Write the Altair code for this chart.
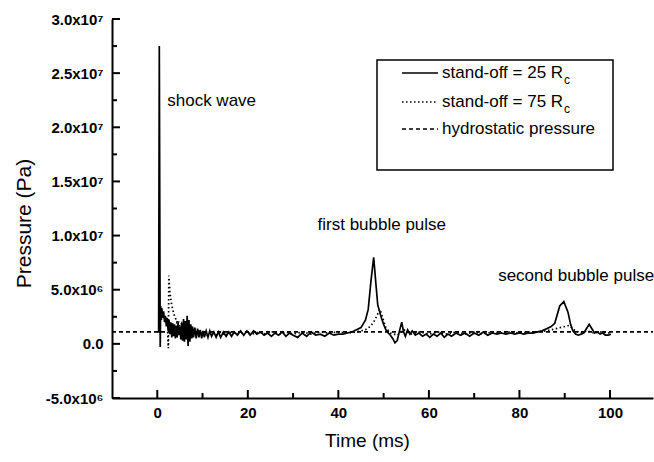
import altair as alt
import pandas as pd

# ---------------- data (time in ms, pressure in units of 1e6 Pa) ----------------
t25 = [0.0, 0.3, 0.45, 0.6, 0.65, 0.75, 0.9, 1.0, 1.2, 1.4, 1.6, 1.8, 2.0, 2.2, 2.4, 2.6,
       2.8, 3.0, 3.2, 3.4, 3.6, 3.8, 4.0, 4.2, 4.4, 4.6, 4.8, 5.0, 5.2, 5.4, 5.6, 5.8,
       6.0, 6.2, 6.4, 6.6, 6.8, 7.0, 7.2, 7.4, 7.6, 7.8, 8.0, 8.3, 8.6, 8.9, 9.2, 9.5,
       9.8, 10.1, 10.4, 10.8, 11.2, 11.6, 12.0, 12.5, 13.0, 13.5, 14.0, 14.6, 15.2, 15.8,
       16.4, 17.0, 17.7, 18.4, 19.1, 19.8, 20.5, 21.3, 22.0, 22.8, 23.6, 24.4, 25.2, 26.0,
       26.8, 27.6, 28.4, 29.2, 30.0, 31.0, 32.0, 33.0, 34.0, 35.0, 36.0, 37.0, 38.0, 39.0,
       40.0, 41.0, 42.0, 43.0, 44.0, 45.0, 46.0, 46.6, 47.2, 47.8, 48.3, 48.7, 49.1, 49.5,
       50.0, 50.5, 51.0, 51.5, 52.0, 52.5, 53.0, 53.5, 54.0, 54.4, 54.8, 55.3, 55.8, 56.3,
       57.0, 57.8, 58.6, 59.4, 60.2, 61.0, 61.8, 62.6, 63.4, 64.2, 65.0, 66.0, 67.0, 68.0,
       69.0, 70.0, 71.0, 72.0, 73.0, 74.0, 75.0, 76.0, 77.0, 78.0, 79.0, 80.0, 81.0, 82.0,
       83.0, 84.0, 85.0, 86.0, 87.0, 87.8, 88.9, 89.8, 90.7, 91.3, 91.8, 92.4, 93.0, 93.6,
       94.2, 94.8, 95.4, 96.0, 96.6, 97.2, 97.8, 98.4, 99.0, 99.6, 100.2]
p25 = [1.1, 1.1, 27.5, 6.0, -0.3, 3.5, 2.2, 3.3, 2.4, 3.0, 2.0, 2.6, 1.6, 2.4, 1.2, 2.2,
       0.9, 2.0, 0.6, 1.9, 0.7, 1.8, 0.5, 1.7, 0.6, 2.0, 0.8, 1.6, 0.4, 1.9, 0.3, 2.3,
       0.2, 2.1, 0.4, 2.6, -0.2, 2.2, 0.2, 1.8, 0.5, 1.6, 0.6, 1.5, 0.5, 1.4, 0.6, 1.3,
       0.5, 1.2, 0.6, 1.2, 0.6, 1.2, 0.7, 1.1, 0.6, 1.1, 0.6, 1.1, 0.7, 1.1,
       0.7, 1.1, 0.8, 1.2, 0.8, 1.2, 0.8, 1.2, 0.9, 1.1, 0.8, 1.0, 0.7, 1.0,
       0.8, 1.1, 0.7, 1.0, 0.8, 0.6, 1.0, 0.7, 1.1, 0.8, 0.9, 0.7, 1.0, 0.8,
       0.9, 0.9, 1.0, 1.1, 1.3, 1.5, 2.2, 3.2, 5.8, 8.0, 5.5, 3.6, 3.0, 2.4,
       1.8, 1.3, 1.0, 0.8, 0.5, 0.1, 0.3, 1.2, 2.0, 1.1, 0.7, 1.3, 0.9, 1.2,
       0.8, 1.0, 0.7, 0.9, 0.6, 0.9, 0.7, 1.0, 0.6, 0.9, 0.7, 1.0, 0.8, 1.0,
       0.7, 1.0, 0.8, 1.1, 0.8, 1.0, 0.9, 1.0, 0.9, 1.0, 0.9, 1.0, 0.9, 1.0,
       1.0, 1.1, 1.2, 1.4, 1.6, 1.9, 3.5, 3.9, 2.95, 1.8, 1.2, 0.9, 0.8, 0.9,
       1.0, 1.4, 1.8, 1.4, 1.0, 1.1, 0.9, 1.0, 0.8, 0.8, 0.9]

t75 = [2.3, 2.45, 2.55, 2.8, 3.1, 3.4, 3.7, 4.0, 4.3, 4.6, 5.0, 5.4, 5.8, 6.2, 6.6, 7.0,
       7.5, 8.0, 8.5, 9.0, 9.6, 10.2, 11.0, 12.0, 13.0, 14.0, 15.0, 16.5, 18.0, 19.5,
       21.0, 22.5, 24.0, 25.5, 27.0, 28.5, 30.0, 32.0, 34.0, 36.0, 38.0, 40.0, 42.0,
       44.0, 46.0, 47.0, 47.8, 48.5, 49.2, 49.8, 50.5, 51.5, 53.0, 54.5, 56.0, 58.0,
       60.0, 62.0, 64.0, 66.0, 68.0, 70.0, 72.0, 74.0, 76.0, 78.0, 80.0, 82.0, 84.0,
       86.0, 88.0, 90.0, 91.0, 92.0, 93.5, 95.0, 96.5, 98.0, 100.0]
p75 = [1.1, -0.4, 6.3, 4.8, 3.8, 3.2, 2.7, 2.4, 2.0, 2.2, 1.6, 1.9, 1.3, 1.7, 1.0, 1.5,
       0.9, 1.4, 0.8, 1.3, 0.8, 1.2, 0.8, 1.1, 0.8, 1.1, 0.8, 1.1, 0.9, 1.1,
       0.9, 1.1, 0.9, 1.1, 0.9, 1.1, 0.9, 1.1, 0.9, 1.1, 1.0, 1.1, 1.0,
       1.1, 1.3, 1.6, 2.0, 2.6, 3.2, 2.4, 1.5, 1.0, 0.8, 1.3, 0.9, 1.1,
       0.9, 1.1, 0.9, 1.1, 0.9, 1.1, 0.9, 1.1, 1.0, 1.1, 1.0, 1.1, 1.1,
       1.2, 1.4, 1.6, 1.7, 1.3, 1.0, 1.2, 1.0, 1.1, 1.0]

hydro_t = [-10, 110]
hydro_p = [1.1, 1.1]

labels = ["shock wave", "first bubble pulse", "second bubble pulse"]
label_t = [2.2, 35.4, 75.3]
label_p = [22.4, 11.0, 6.3]

y_major = [-5, 0, 5, 10, 15, 20, 25, 30]
y_minor = [-2.5, 2.5, 7.5, 12.5, 17.5, 22.5, 27.5]
x_major = [0, 20, 40, 60, 80, 100]
x_minor = [10, 30, 50, 70, 90]

legend_names = ["stand-off = 25 R", "stand-off = 75 R", "hydrostatic pressure"]

# ---------------- frames ----------------
df25 = pd.DataFrame({"t": t25, "p": p25})
df75 = pd.DataFrame({"t": t75, "p": p75})
dfh = pd.DataFrame({"t": hydro_t, "p": hydro_p})
dflab = pd.DataFrame({"t": label_t, "p": label_p, "label": labels})
dfyM = pd.DataFrame({"p": y_major})
dfym = pd.DataFrame({"p": y_minor})
dfxM = pd.DataFrame({"t": x_major})
dfxm = pd.DataFrame({"t": x_minor})

FONT = "Liberation Sans"
W, H = 541, 379

xscale = alt.Scale(domain=[-10, 109.5], nice=False, zero=False)
yscale = alt.Scale(domain=[-5, 30], nice=False, zero=False)

xaxis = alt.Axis(values=x_major, title="Time (ms)", grid=False, ticks=False,
                 labelFontSize=15, labelFont=FONT, labelFontWeight="bold", labelPadding=7,
                 labelColor="black", domainColor="black", domainWidth=2,
                 titleFont=FONT, titleFontSize=19, titleFontWeight="normal", titleColor="black",
                 titleX=255, titleY=42, titleBaseline="middle", titleAnchor="middle")
ylabel_expr = ("datum.value == 0 ? '0.0' : (abs(datum.value) < 10 ? "
               "(datum.value < 0 ? '-' : '') + format(abs(datum.value), '.1f') + 'x10\u2076' : "
               "format(datum.value / 10, '.1f') + 'x10\u2077')")
yaxis = alt.Axis(values=y_major, title="Pressure (Pa)", grid=False, ticks=False,
                 labelExpr=ylabel_expr, labelFontSize=15, labelFont=FONT, labelFontWeight="bold",
                 labelPadding=9, labelColor="black", domainColor="black", domainWidth=2,
                 titleFont=FONT, titleFontSize=21, titleFontWeight="normal", titleColor="black",
                 titleX=-88, titleY=204, titleBaseline="middle", titleAngle=-90)

X = alt.X("t:Q", scale=xscale, axis=xaxis)
Y = alt.Y("p:Q", scale=yscale, axis=yaxis)

hydro = alt.Chart(dfh).mark_line(color="black", strokeWidth=1.8, strokeDash=[4, 3], clip=True).encode(x=X, y=Y)
s75 = alt.Chart(df75).mark_line(color="black", strokeWidth=1.7, strokeDash=[1.5, 2.5], clip=True).encode(x=X, y=Y)
s25 = alt.Chart(df25).mark_line(color="black", strokeWidth=1.7, clip=True).encode(x=X, y=Y)

ann = alt.Chart(dflab).mark_text(align="left", baseline="middle", font=FONT, fontSize=17,
                                 color="black").encode(x=X, y=Y, text="label:N")

# inward ticks
ytM = alt.Chart(dfyM).mark_rule(color="black", strokeWidth=2).encode(
    y=Y, x=alt.value(0), x2=alt.value(8))
ytm = alt.Chart(dfym).mark_rule(color="black", strokeWidth=2).encode(
    y=Y, x=alt.value(0), x2=alt.value(5))
xtM = alt.Chart(dfxM).mark_rule(color="black", strokeWidth=2).encode(
    x=X, y=alt.value(H), y2=alt.value(H - 8))
xtm = alt.Chart(dfxm).mark_rule(color="black", strokeWidth=2).encode(
    x=X, y=alt.value(H), y2=alt.value(H - 5))

# ---------------- legend box ----------------
dfleg = pd.DataFrame({"name": legend_names})
box = alt.Chart(dfleg.head(1)).mark_rect(fill="white", stroke="black", strokeWidth=1.5).encode(
    x=alt.value(265), x2=alt.value(501), y=alt.value(41), y2=alt.value(151))
leg_items = []
dashes = [[1, 0], [1.5, 2.5], [4, 3]]
rows_y = [54, 83, 110]
for i, name in enumerate(legend_names):
    row = dfleg.iloc[[i]]
    leg_items.append(alt.Chart(row).mark_rule(color="black", strokeWidth=1.5, strokeDash=dashes[i]).encode(
        x=alt.value(290), x2=alt.value(326), y=alt.value(rows_y[i])))
    leg_items.append(alt.Chart(row).mark_text(align="left", baseline="middle", font=FONT, fontSize=17,
                                              color="black").encode(
        x=alt.value(330), y=alt.value(rows_y[i]), text="name:N"))
sub = pd.DataFrame({"s": ["c", "c"], "yy": [rows_y[0] + 7, rows_y[1] + 7]})
subs = alt.Chart(sub).mark_text(align="left", baseline="middle", font=FONT, fontSize=12,
                                color="black").encode(
    x=alt.value(452), y=alt.Y("yy:Q", scale=None, axis=None), text="s:N")

chart = alt.layer(hydro, s75, s25, ann, ytM, ytm, xtM, xtm, box, *leg_items, subs).properties(
    width=W, height=H,
    autosize=alt.AutoSizeParams(type="none"),
    padding={"left": 112, "top": 19, "right": 1, "bottom": 64},
    background="white",
).configure_view(stroke=None)

chart.save("out.html", embed_options={"renderer": "svg", "actions": False})
